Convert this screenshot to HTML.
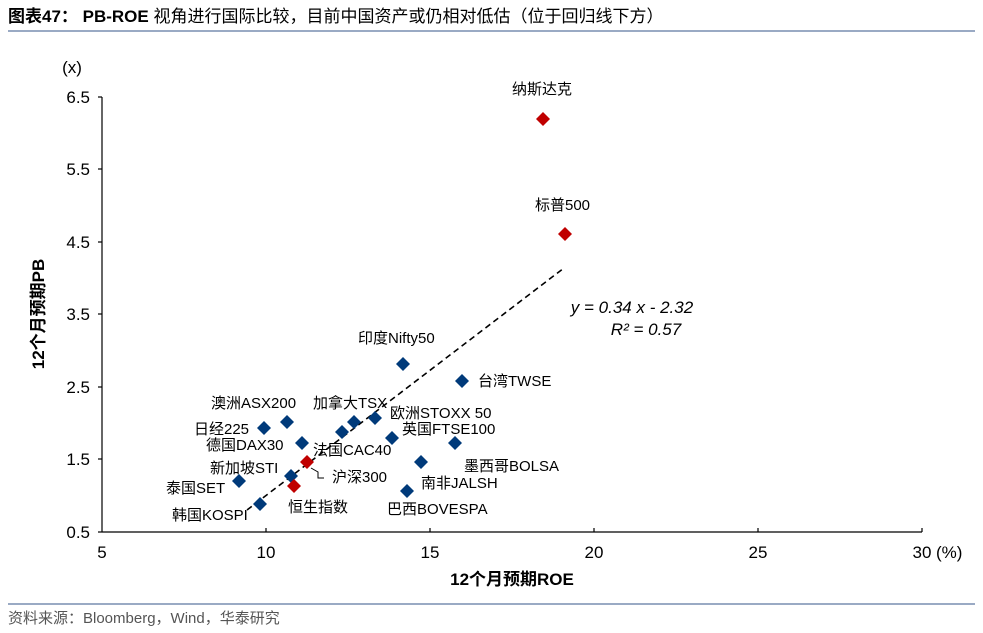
<!DOCTYPE html>
<html><head><meta charset="utf-8"><style>
body{margin:0;background:#fff;width:983px;height:633px;overflow:hidden}
svg{display:block}
text{font-family:"Liberation Sans","Noto Sans CJK SC",sans-serif}
</style></head><body>
<svg width="983" height="633" viewBox="0 0 983 633">
<text x="8" y="22" font-size="17" font-weight="bold" fill="#000">图表47： PB-ROE <tspan font-weight="normal">视角进行国际比较，目前中国资产或仍相对低估（位于回归线下方）</tspan></text>
<rect x="8" y="30" width="967" height="2" fill="#9aaac4"/>
<rect x="8" y="603" width="967" height="2" fill="#9aaac4"/>
<text x="8" y="623" font-size="15" fill="#555">资料来源：Bloomberg，Wind，华泰研究</text>

<g stroke="#000" stroke-width="1.2" fill="none">
<line x1="102" y1="97" x2="102" y2="532"/>
<line x1="102" y1="532" x2="922" y2="532"/>
<line x1="98" y1="97" x2="102" y2="97"/><line x1="98" y1="169" x2="102" y2="169"/>
<line x1="98" y1="242" x2="102" y2="242"/><line x1="98" y1="314" x2="102" y2="314"/>
<line x1="98" y1="387" x2="102" y2="387"/><line x1="98" y1="459" x2="102" y2="459"/>
<line x1="98" y1="532" x2="102" y2="532"/>
<line x1="266" y1="528" x2="266" y2="532"/><line x1="430" y1="528" x2="430" y2="532"/>
<line x1="594" y1="528" x2="594" y2="532"/><line x1="758" y1="528" x2="758" y2="532"/>
<line x1="922" y1="528" x2="922" y2="532"/>
</g>
<g font-size="17" fill="#000" text-anchor="end">
<text x="90" y="103">6.5</text><text x="90" y="175">5.5</text><text x="90" y="248">4.5</text>
<text x="90" y="320">3.5</text><text x="90" y="393">2.5</text><text x="90" y="465">1.5</text><text x="90" y="538">0.5</text>
</g>
<text x="72" y="73" font-size="17" text-anchor="middle">(x)</text>
<g font-size="17" text-anchor="middle">
<text x="102" y="558">5</text><text x="266" y="558">10</text><text x="430" y="558">15</text>
<text x="594" y="558">20</text><text x="758" y="558">25</text><text x="922" y="558">30</text>
</g>
<text x="936" y="558" font-size="17">(%)</text>
<text x="512" y="585" font-size="17" font-weight="bold" text-anchor="middle">12个月预期ROE</text>
<text transform="translate(44,314) rotate(-90)" font-size="17" font-weight="bold" text-anchor="middle">12个月预期PB</text>

<line x1="247" y1="510" x2="564" y2="268" stroke="#000" stroke-width="1.6" stroke-dasharray="6,4"/>
<text x="632" y="313" font-size="17" font-style="italic" text-anchor="middle">y = 0.34 x - 2.32</text>
<text x="646" y="335" font-size="17" font-style="italic" text-anchor="middle">R² = 0.57</text>

<g fill="#003a7a">
<path d="M264 421l7 7-7 7-7-7z"/><path d="M287 415l7 7-7 7-7-7z"/><path d="M302 436l7 7-7 7-7-7z"/>
<path d="M342 425l7 7-7 7-7-7z"/><path d="M354 415l7 7-7 7-7-7z"/><path d="M375 411l7 7-7 7-7-7z"/>
<path d="M392 431l7 7-7 7-7-7z"/><path d="M455 436l7 7-7 7-7-7z"/><path d="M421 455l7 7-7 7-7-7z"/>
<path d="M407 484l7 7-7 7-7-7z"/><path d="M239 474l7 7-7 7-7-7z"/><path d="M291 469l7 7-7 7-7-7z"/>
<path d="M260 497l7 7-7 7-7-7z"/><path d="M403 357l7 7-7 7-7-7z"/><path d="M462 374l7 7-7 7-7-7z"/>
</g>
<g fill="#c00000">
<path d="M307 455l7 7-7 7-7-7z"/><path d="M294 479l7 7-7 7-7-7z"/>
<path d="M543 112l7 7-7 7-7-7z"/><path d="M565 227l7 7-7 7-7-7z"/>
</g>
<polyline points="311,468 318,472 318,478 324,478" fill="none" stroke="#000" stroke-width="1"/>

<g font-size="15" fill="#000">
<text x="512" y="94">纳斯达克</text>
<text x="535" y="210">标普500</text>
<text x="358" y="343">印度Nifty50</text>
<text x="478" y="386">台湾TWSE</text>
<text x="211" y="408">澳洲ASX200</text>
<text x="313" y="408">加拿大TSX</text>
<text x="390" y="418">欧洲STOXX 50</text>
<text x="402" y="434">英国FTSE100</text>
<text x="194" y="434">日经225</text>
<text x="206" y="450">德国DAX30</text>
<text x="313" y="455">法国CAC40</text>
<text x="464" y="471">墨西哥BOLSA</text>
<text x="210" y="473">新加坡STI</text>
<text x="332" y="482">沪深300</text>
<text x="421" y="488">南非JALSH</text>
<text x="166" y="493">泰国SET</text>
<text x="288" y="512">恒生指数</text>
<text x="387" y="514">巴西BOVESPA</text>
<text x="172" y="520">韩国KOSPI</text>
</g>
</svg>
</body></html>
